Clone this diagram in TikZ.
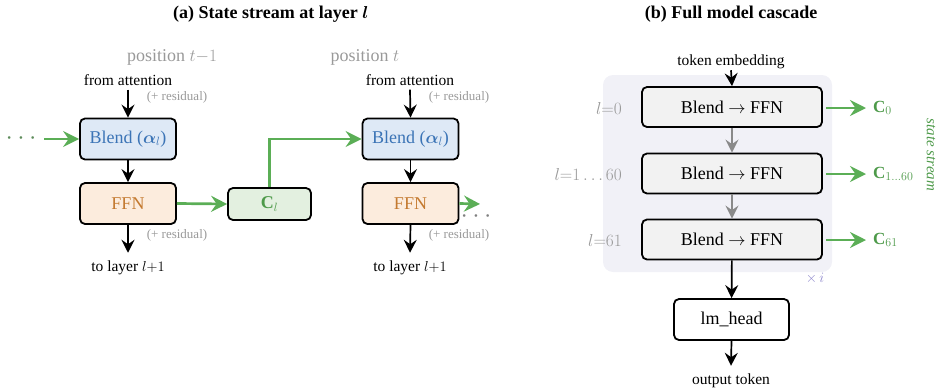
\documentclass[tikz,border=0pt]{standalone}
\usepackage{amsmath,bm}
\usepackage{fontspec}
\setmainfont{Liberation Serif}
\usetikzlibrary{arrows.meta}
\definecolor{blendfill}{HTML}{DEE9F6}
\definecolor{blendtext}{HTML}{3B74B6}
\definecolor{ffnfill}{HTML}{FCECDD}
\definecolor{ffntext}{HTML}{C47A30}
\definecolor{cfill}{HTML}{E3F0E0}
\definecolor{gtext}{HTML}{4E9A4A}
\definecolor{garrow}{HTML}{5BAE56}
\definecolor{graytext}{HTML}{999999}
\definecolor{grayarrow}{HTML}{8A8A8A}
\definecolor{bgfill}{HTML}{F1F1F7}
\definecolor{boxfill}{HTML}{F2F2F2}
\definecolor{purp}{HTML}{8E88CC}
\definecolor{dotcol}{HTML}{5E8C5B}
\newcommand{\mydots}{$\bullet$\hspace{8pt}$\bullet$\hspace{8pt}$\bullet$}
\tikzset{
  lbl/.style={font=\fontsize{15.5}{18}\selectfont, inner sep=1pt},
  smalllbl/.style={font=\fontsize{13}{15}\selectfont, text=graytext, inner sep=1pt},
  poslbl/.style={font=\fontsize{18}{21}\selectfont, text=graytext, inner sep=1pt},
  ttl/.style={font=\fontsize{18}{21}\selectfont\bfseries, inner sep=1pt},
  box/.style={draw=black, line width=1.8pt, rounded corners=5pt, minimum width=96pt, minimum height=41pt, font=\fontsize{18}{21}\selectfont, inner sep=0pt},
  blendbox/.style={box, fill=blendfill, text=blendtext},
  ffnbox/.style={box, fill=ffnfill, text=ffntext},
  cbox/.style={box, fill=cfill, text=gtext, minimum width=83pt, minimum height=32pt},
  bbox/.style={box, fill=boxfill, minimum width=180pt, minimum height=40pt},
  arr/.style={-{Stealth[length=13pt,width=13pt,inset=4.5pt]}, line width=1.7pt},
  garr/.style={-{Stealth[length=16pt,width=16pt,inset=5.5pt]}, line width=2.7pt, draw=garrow},
  grarr/.style={-{Stealth[length=13pt,width=13pt,inset=4.5pt]}, line width=1.7pt, draw=grayarrow},
  llab/.style={font=\fontsize{17}{20}\selectfont, text=graytext, inner sep=1pt, anchor=east},
  clab/.style={font=\fontsize{17}{20}\selectfont, text=gtext, inner sep=1pt, anchor=west},
  dotlbl/.style={font=\fontsize{6.5}{8}\selectfont, text=dotcol, inner sep=1pt},
}
\begin{document}
\begin{tikzpicture}[x=1pt,y=-1pt]
\useasboundingbox (0,0) rectangle (940,389);
% ---------- panel (a)
\node[ttl, anchor=west] (ta) at (172,14) {(a) State stream at layer $\bm{l}$};
\node[poslbl] (posL) at (172,57) {position $t{-}1$};
\node[poslbl] (posR) at (365,57) {position $t$};

\node[lbl] (fromL) at (128,80) {from attention};
\node[smalllbl] (resL) at (177,97) {(+ residual)};
\node[blendbox] (blendL) at (128,139) {Blend ($\bm{\alpha}_l$)};
\node[ffnbox] (ffnL) at (128,203.5) {FFN};
\node[smalllbl] (resL2) at (177,235) {(+ residual)};
\node[lbl] (toL) at (128,268) {to layer $l{+}1$};
\node[dotlbl] (dotsL) at (21,138) {\mydots};
\coordinate (inL) at (44,139);

\node[cbox] (cl) at (269.5,204) {$\mathbf{C}_l$};

\node[lbl] (fromR) at (410,80) {from attention};
\node[smalllbl] (resR) at (459,97) {(+ residual)};
\node[blendbox] (blendR) at (410.5,139) {Blend ($\bm{\alpha}_l$)};
\node[ffnbox] (ffnR) at (410.5,203.5) {FFN};
\node[smalllbl] (resR2) at (459,235) {(+ residual)};
\node[lbl] (toR) at (410,268) {to layer $l{+}1$};
\coordinate (outR) at (480,204);
\node[dotlbl, text=gray] (dotsR) at (476,216) {\mydots};

\draw[arr] ([yshift=-3pt]fromL.south) -- (blendL.north);
\draw[arr] (blendL) -- (ffnL);
\draw[arr] (ffnL.south) -- ([yshift=7pt]toL.north);
\draw[arr] ([yshift=-3pt]fromR.south) -- (blendR.north);
\draw[arr] (blendR) -- (ffnR);
\draw[arr] (ffnR.south) -- ([yshift=7pt]toR.north);
\draw[garr] (inL) -- (blendL.west);
\draw[garr] (ffnL.east) -- (cl.west);
\draw[garr] (cl.north) |- (blendR.west);
\draw[garr] (ffnR.east) -- (outR);

% ---------- panel (b)
\node[ttl] (tb) at (731,14) {(b) Full model cascade};
\fill[bgfill, rounded corners=10pt] (603,75) rectangle (832,272);
\node[lbl] (tok) at (731,62) {token embedding};
\node[bbox] (b1) at (732,107) {Blend $\rightarrow$ FFN};
\node[bbox] (b2) at (732,173.5) {Blend $\rightarrow$ FFN};
\node[bbox] (b3) at (732,239.5) {Blend $\rightarrow$ FFN};
\node[box, minimum width=115pt, minimum height=41pt] (lm) at (731.5,319.5) {lm\_head};
\node[lbl] (out) at (731,381) {output token};

\node[llab] (l0) at (623,108) {$l{=}0$};
\node[llab] (l1) at (623,174) {$l{=}1\ldots60$};
\node[llab] (l61) at (623,240) {$l{=}61$};

\coordinate (s1) at (826,108); \coordinate (e1) at (866,108);
\coordinate (s2) at (826,174); \coordinate (e2) at (866,174);
\coordinate (s3) at (826,240); \coordinate (e3) at (866,240);
\draw[garr] (s1) -- (e1);
\draw[garr] (s2) -- (e2);
\draw[garr] (s3) -- (e3);
\node[clab] (c0) at (872,108) {$\mathbf{C}_0$};
\node[clab] (c1) at (872,174) {$\mathbf{C}_{1\ldots60}$};
\node[clab] (c61) at (872,240) {$\mathbf{C}_{61}$};

\node[font=\fontsize{15}{18}\selectfont\itshape, text=gtext, rotate=-90, inner sep=1pt] (ss) at (931,155) {state stream};
\node[font=\fontsize{15}{18}\selectfont, text=purp, inner sep=1pt] (xi) at (815,278) {$\times\, i$};

\draw[arr] (tok.south) -- (b1.north);
\draw[grarr] (b1) -- (b2);
\draw[grarr] (b2) -- (b3);
\draw[arr] (b3) -- (lm);
\draw[arr] (lm.south) -- ([yshift=7pt]out.north);
\end{tikzpicture}
\end{document}
